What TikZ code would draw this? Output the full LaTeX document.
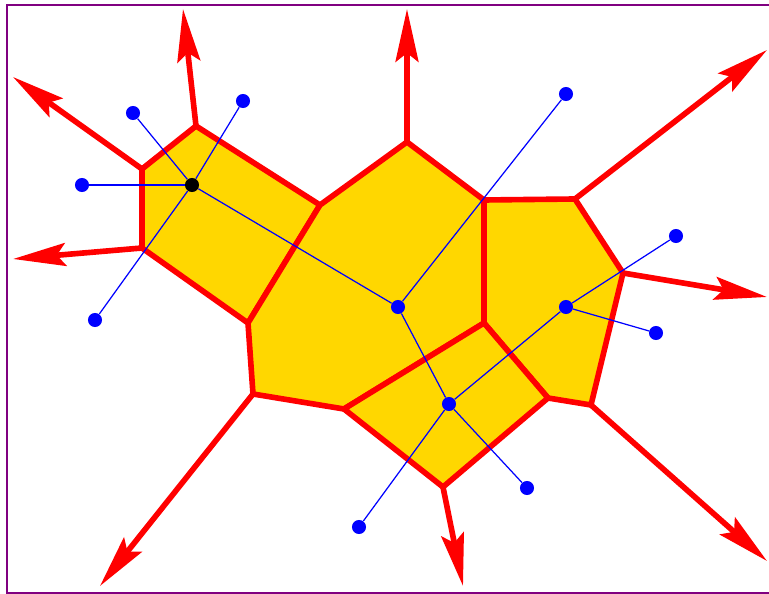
\documentclass[tikz,border=0pt]{standalone}
\usetikzlibrary{arrows.meta}
\definecolor{cellfill}{RGB}{255,215,0}
\definecolor{framecol}{RGB}{128,0,128}

\begin{document}
\begin{tikzpicture}[
    x=0.02cm, y=-0.02cm,
    cell/.style={draw=red, fill=cellfill, line width=3.2pt, line join=round},
    ray/.style={red, line width=3.2pt, -{Stealth[length=30pt, width=13pt, inset=5pt]}},
    link/.style={blue, line width=0.7pt},
    site/.style={circle, fill=blue, inner sep=0pt, minimum size=8pt},
    hub/.style={site, fill=black}
]
    \useasboundingbox (0,0) rectangle (769,594);
    \draw[framecol, line width=1.1pt] (7,5) rectangle (775,593);

    \coordinate (A) at (196,126);
    \coordinate (B) at (142,169);
    \coordinate (C) at (142,248);
    \coordinate (D) at (320,205);
    \coordinate (E) at (248,323);
    \coordinate (F) at (407,142);
    \coordinate (G) at (484,200);
    \coordinate (H) at (484,323);
    \coordinate (I) at (344,409);
    \coordinate (J) at (253,394);
    \coordinate (K) at (575,199);
    \coordinate (L) at (623,273);
    \coordinate (M) at (548,398);
    \coordinate (N) at (591,405);
    \coordinate (O) at (443,487);

    \draw[cell] (A) -- (D) -- (E) -- (C) -- (B) -- cycle;
    \draw[cell] (D) -- (F) -- (G) -- (H) -- (I) -- (J) -- (E) -- cycle;
    \draw[cell] (G) -- (K) -- (L) -- (N) -- (M) -- (H) -- cycle;
    \draw[cell] (H) -- (M) -- (O) -- (I) -- cycle;

    \coordinate (tA) at (183,9);
    \coordinate (tB) at (13,77);
    \coordinate (tC) at (13,259);
    \coordinate (tF) at (407,9);
    \coordinate (tK) at (767,50);
    \coordinate (tL) at (767,297);
    \coordinate (tN) at (767,561);
    \coordinate (tO) at (463,586);
    \coordinate (tJ) at (100,586);

    \draw[ray] (A) -- (tA);
    \draw[ray] (B) -- (tB);
    \draw[ray] (C) -- (tC);
    \draw[ray] (F) -- (tF);
    \draw[ray] (K) -- (tK);
    \draw[ray] (L) -- (tL);
    \draw[ray] (N) -- (tN);
    \draw[ray] (O) -- (tO);
    \draw[ray] (J) -- (tJ);

    \node[hub] (p0) at (192,185) {};
    \node[site] (pa) at (133,113) {};
    \node[site] (pb) at (243,101) {};
    \node[site] (pc) at (82,185) {};
    \node[site] (pd) at (95,320) {};
    \node[site] (q) at (398,307) {};
    \node[site] (qa) at (566,94) {};
    \node[site] (r) at (449,404) {};
    \node[site] (ra) at (527,488) {};
    \node[site] (rb) at (359,527) {};
    \node[site] (t) at (566,307) {};
    \node[site] (ta) at (676,236) {};
    \node[site] (tb) at (656,333) {};

    \draw[link] (p0) -- (pa);
    \draw[link] (p0) -- (pb);
    \draw[link] (p0) -- (pc);
    \draw[link] (p0) -- (pd);
    \draw[link] (p0) -- (q);
    \draw[link] (q) -- (qa);
    \draw[link] (q) -- (r);
    \draw[link] (r) -- (ra);
    \draw[link] (r) -- (rb);
    \draw[link] (r) -- (t);
    \draw[link] (t) -- (ta);
    \draw[link] (t) -- (tb);
\end{tikzpicture}
\end{document}
